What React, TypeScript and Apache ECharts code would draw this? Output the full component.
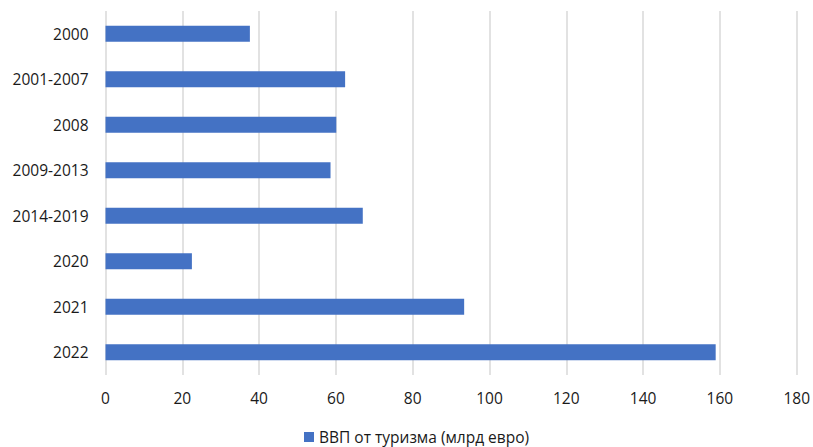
import React, { useEffect, useRef } from "react";
import * as echarts from "echarts";

const categories = ["2000", "2001-2007", "2008", "2009-2013", "2014-2019", "2020", "2021", "2022"];
const gdpValues = [37.6, 62.4, 60.1, 58.6, 67.0, 22.5, 93.4, 158.9];
const seriesName = "ВВП от туризма (млрд евро)";
const xTicks = { min: 0, max: 180, interval: 20 };

const FONT = "'Open Sans', 'Noto Sans', sans-serif";
const TEXT = "#1a1a1a";

export default function App() {
  const ref = useRef<HTMLDivElement>(null);

  useEffect(() => {
    document.body.style.margin = "0";
    if (!ref.current) return;
    const chart = echarts.init(ref.current, undefined, { renderer: "svg" });
    chart.setOption({
      animation: false,
      backgroundColor: "#ffffff",
      textStyle: { fontFamily: FONT },
      grid: { left: 105.5, right: 15, top: 11, bottom: 72, containLabel: false },
      legend: {
        data: [seriesName],
        left: 304,
        top: 428,
        padding: 0,
        itemWidth: 10,
        itemHeight: 10,
        itemGap: 4,
        icon: "rect",
        textStyle: { fontFamily: FONT, fontSize: 15.5, color: TEXT, lineHeight: 18 },
      },
      xAxis: {
        type: "value",
        min: xTicks.min,
        max: xTicks.max,
        interval: xTicks.interval,
        axisLine: { show: false },
        axisTick: { show: false },
        axisLabel: { fontFamily: FONT, fontSize: 15.5, color: TEXT, margin: 15 },
        splitLine: { show: true, lineStyle: { color: "#d9d9d9", width: 1.5 } },
      },
      yAxis: {
        type: "category",
        data: categories,
        inverse: true,
        axisLine: { show: false },
        axisTick: { show: false },
        axisLabel: { fontFamily: FONT, fontSize: 15.5, color: TEXT, margin: 17 },
        splitLine: { show: false },
      },
      series: [
        {
          name: seriesName,
          type: "bar",
          data: gdpValues,
          barWidth: 16,
          itemStyle: { color: "#4472c4" },
        },
      ],
    });
    return () => chart.dispose();
  }, []);

  return <div ref={ref} style={{ width: 813, height: 447 }} />;
}
